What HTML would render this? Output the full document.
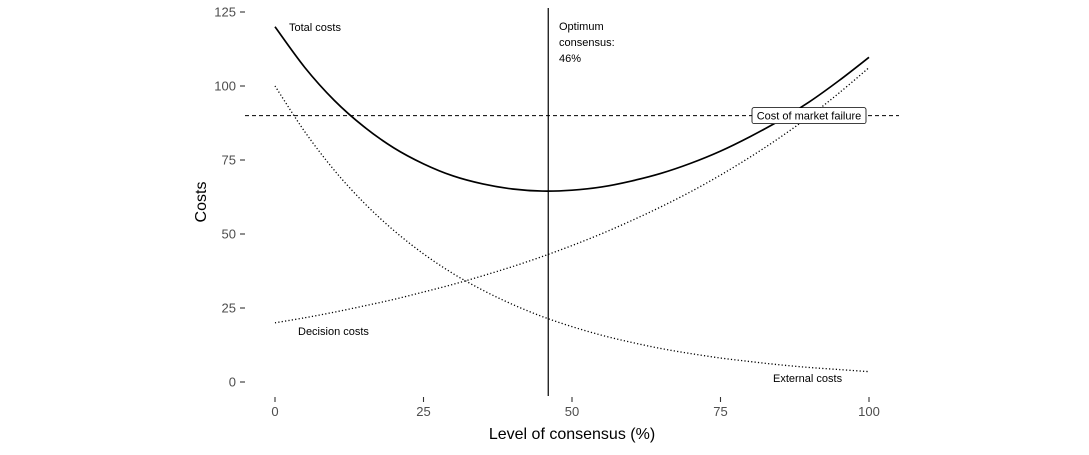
<!DOCTYPE html>
<html><head><meta charset="utf-8"><style>
body{margin:0;background:#fff}
svg text{font-family:"Liberation Sans",Arial,sans-serif}
</style></head><body>
<svg id="chart" width="1089" height="450" viewBox="0 0 1089 450" xmlns="http://www.w3.org/2000/svg">
<g id="axes"></g>
<g id="series"></g>
<g id="labels"></g>
</svg>
<script>
const xValues=[0,5,10,15,20,25,30,35,40,45,50,55,60,65,70,75,80,85,90,95,100];
const externalCosts=[100,84.6,71.5,60.5,51.2,43.3,36.6,31.0,26.2,22.1,18.7,15.8,13.4,11.3,9.6,8.1,6.9,5.8,4.9,4.2,3.5];
const decisionCosts=[20,21.7,23.6,25.7,27.9,30.4,33.0,35.9,39.0,42.4,46.1,50.1,54.5,59.2,64.3,69.9,76.0,82.6,89.8,97.7,106.2];
const xTicks=[0,25,50,75,100];
const yTicks=[0,25,50,75,100,125];
const optimum=[46];
const marketFailure=[90];

const NS="http://www.w3.org/2000/svg";
const X=v=>275+v*5.94;
const Y=v=>382-v*2.96;
function mk(tag,attrs,parent,text){const e=document.createElementNS(NS,tag);for(const k in attrs)e.setAttribute(k,attrs[k]);if(text!==undefined)e.textContent=text;parent.appendChild(e);return e;}
const axes=document.getElementById('axes'),series=document.getElementById('series'),labels=document.getElementById('labels');

yTicks.forEach(t=>{
  const l=mk('line',{x1:240,x2:245,y1:Y(t),y2:Y(t),stroke:'#333','stroke-width':1.1},axes);
  
  
  const tx=mk('text',{x:236,y:Y(t)+4.5,'text-anchor':'end','font-size':13,fill:'#4d4d4d'},axes,t);
  
  
});
xTicks.forEach(t=>{
  const l=mk('line',{x1:X(t),x2:X(t),y1:397,y2:402,stroke:'#333','stroke-width':1.1},axes);
  
  
  const tx=mk('text',{x:X(t),y:416,'text-anchor':'middle','font-size':13,fill:'#4d4d4d'},axes,t);
  
  
});
const xt=mk('text',{x:572,y:439,'text-anchor':'middle','font-size':16},axes,'Level of consensus (%)');


const yt=mk('text',{x:206,y:202,'text-anchor':'middle','font-size':16,transform:'rotate(-90 206 202)'},axes,'Costs');



function smooth(vals){
  const p=xValues.map((x,i)=>[X(x),Y(vals[i])]);
  let d=`M${p[0][0]},${p[0][1]}`;
  for(let i=0;i<p.length-1;i++){
    const p0=p[i-1]||p[i],p1=p[i],p2=p[i+1],p3=p[i+2]||p2;
    d+=` C${p1[0]+(p2[0]-p0[0])/6},${p1[1]+(p2[1]-p0[1])/6} ${p2[0]-(p3[0]-p1[0])/6},${p2[1]-(p3[1]-p1[1])/6} ${p2[0]},${p2[1]}`;
  }
  return d;
}
const totalCosts=externalCosts.map((v,i)=>v+decisionCosts[i]);
const ext=mk('path',{d:smooth(externalCosts),fill:'none',stroke:'#000','stroke-width':1.3,'stroke-dasharray':'1.2,2.2'},series);


const dec=mk('path',{d:smooth(decisionCosts),fill:'none',stroke:'#000','stroke-width':1.3,'stroke-dasharray':'1.2,2.2'},series);


const tot=mk('path',{d:smooth(totalCosts),fill:'none',stroke:'#000','stroke-width':1.7},series);


const hl=mk('line',{x1:245,x2:899,y1:Y(marketFailure[0]),y2:Y(marketFailure[0]),stroke:'#000','stroke-width':1,'stroke-dasharray':'4,3'},series);


const vl=mk('line',{x1:X(optimum[0]),x2:X(optimum[0]),y1:8,y2:396,stroke:'#000','stroke-width':1.2},series);



function lab(x,y,t,name,anchor){const e=mk('text',{x:x,y:y,'font-size':11,'text-anchor':anchor||'start'},labels,t);return e;}
lab(289,31,'Total costs','total-costs-label');
lab(298,335,'Decision costs','decision-costs-label');
lab(773,382,'External costs','external-costs-label');
lab(559,30,'Optimum','optimum-label-1');
lab(559,46,'consensus:','optimum-label-2');
lab(559,62,'46%','optimum-label-3');
const box=mk('rect',{x:752,y:Y(marketFailure[0])-8,width:114,height:16,rx:2,fill:'#fff',stroke:'#000','stroke-width':0.8},labels);


lab(809,Y(marketFailure[0])+4,'Cost of market failure','market-failure-label','middle');
</script>
</body></html>
